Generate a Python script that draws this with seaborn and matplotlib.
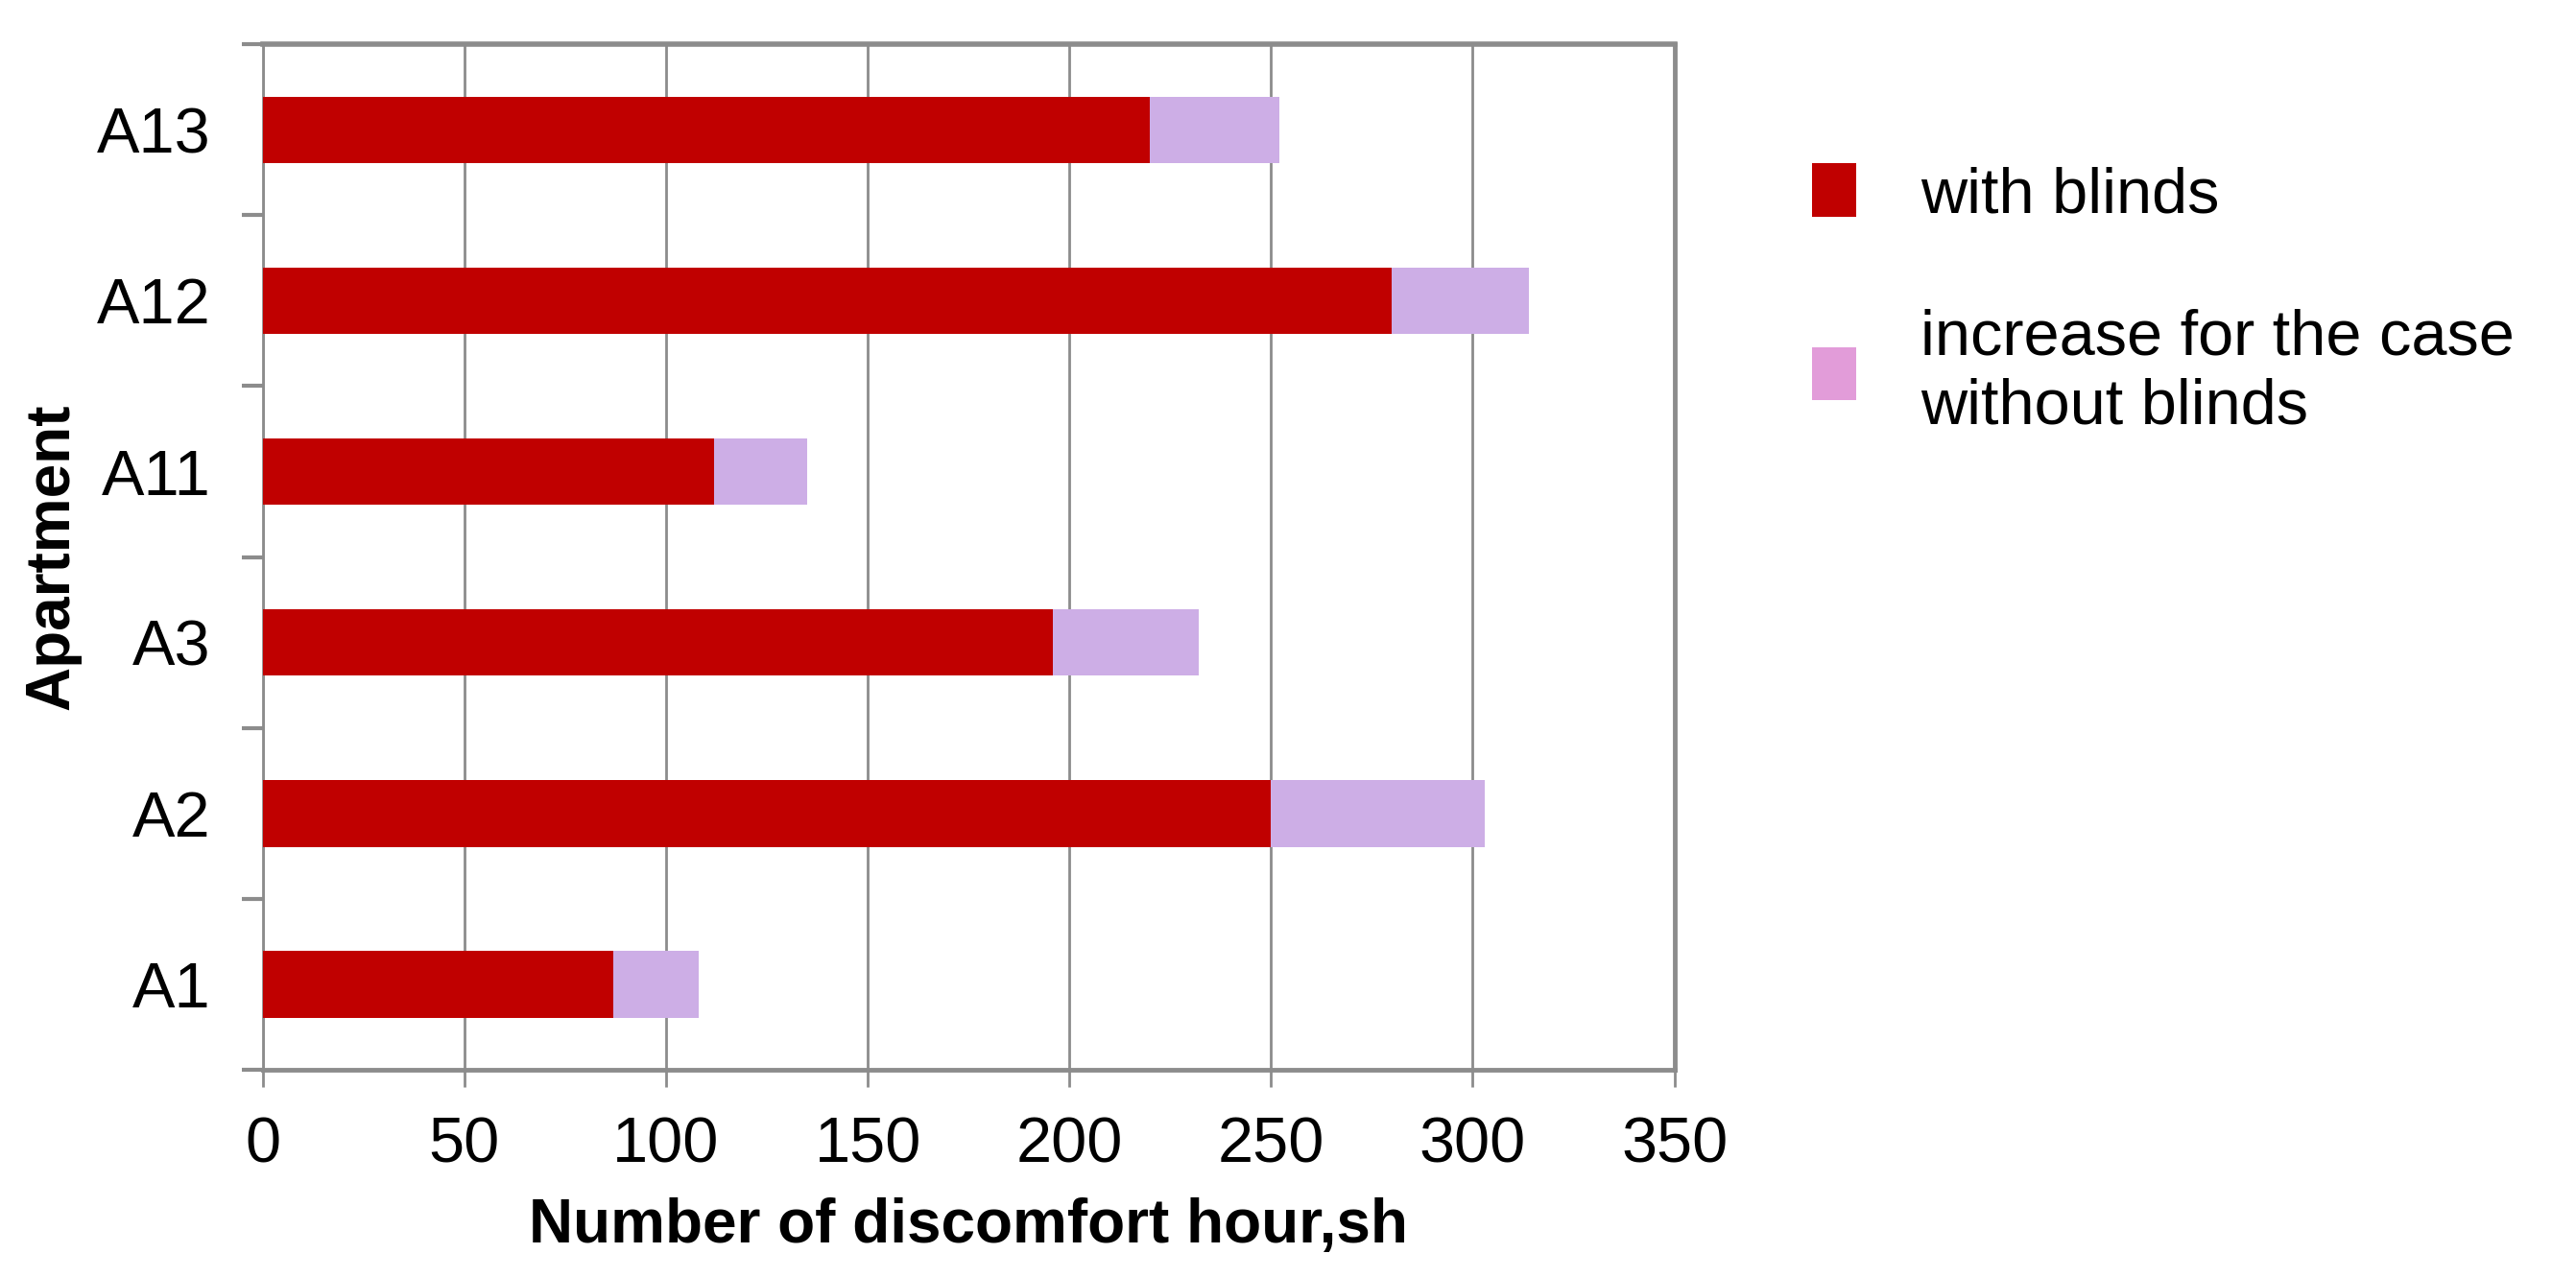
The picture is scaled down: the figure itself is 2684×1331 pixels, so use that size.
import matplotlib
matplotlib.use("Agg")
import matplotlib.pyplot as plt
import seaborn as sns
from matplotlib.patches import Patch
from matplotlib.ticker import MultipleLocator

# Data
apartments = ["A1", "A2", "A3", "A11", "A12", "A13"]
with_blinds = [87, 250, 196, 112, 280, 220]
increase_no_blinds = [21, 53, 36, 23, 34, 32]
x_ticks = [0, 50, 100, 150, 200, 250, 300, 350]

total = [a + b for a, b in zip(with_blinds, increase_no_blinds)]
order = apartments[::-1]  # A13 at top

red = "#C00000"
lavender = "#CDAEE6"
legend_pink = "#E29CD9"
grey = "#8C8C8C"

sns.set_style("white")
plt.rcParams["font.family"] = ["Liberation Sans", "DejaVu Sans"]
plt.rcParams["text.color"] = "black"
plt.rcParams["axes.labelcolor"] = "black"
plt.rcParams["xtick.labelcolor"] = "black"
plt.rcParams["ytick.labelcolor"] = "black"

fig = plt.figure(figsize=(26.84, 13.31), dpi=100)
ax = fig.add_axes([0.102, 0.1623, 0.548, 0.803])

sns.barplot(x=total, y=apartments, order=order, color=lavender, width=0.39,
            saturation=1, orient="h", linewidth=0, ax=ax, zorder=3)
sns.barplot(x=with_blinds, y=apartments, order=order, color=red, width=0.39,
            saturation=1, orient="h", linewidth=0, ax=ax, zorder=4)

ax.set_xlim(0, 350)
ax.set_xticks(x_ticks)
ax.set_ylim(5.5, -0.5)
ax.yaxis.set_minor_locator(MultipleLocator(1, offset=0.5))
ax.xaxis.grid(True, color=grey, linewidth=2)
ax.set_axisbelow(True)

for side, lw in [("top", 4), ("right", 3.5), ("bottom", 3.5), ("left", 2)]:
    ax.spines[side].set_visible(True)
    ax.spines[side].set_color(grey)
    ax.spines[side].set_linewidth(lw)

ax.tick_params(axis="x", which="major", direction="out", length=13, width=2,
               color=grey, labelsize=48, pad=22, bottom=True)
ax.tick_params(axis="y", which="major", length=0, labelsize=48, pad=39)
ax.tick_params(axis="y", which="minor", direction="out", length=16, width=3,
               color=grey, left=True)

ax.set_xlabel("Number of discomfort hour,sh", fontsize=46, fontweight="bold",
              labelpad=16)
ax.set_ylabel("Apartment", fontsize=46, fontweight="bold", labelpad=12)

handles = [Patch(facecolor=red, edgecolor="none", label="with blinds"),
           Patch(facecolor=legend_pink, edgecolor="none",
                 label="increase for the case\nwithout blinds")]
fig.legend(handles=handles, loc="upper left", bbox_to_anchor=(0.681, 0.917),
           frameon=False, fontsize=48, handlelength=0.7, handleheight=0.9,
           handletextpad=1.0, labelspacing=1.3)

fig.savefig("out.png", dpi=100)
